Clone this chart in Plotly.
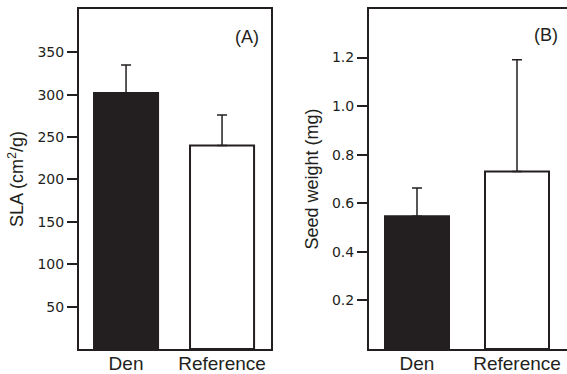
import plotly.graph_objects as go

categories = ["Den", "Reference"]
sla_values = [302, 240]
sla_errors = [33, 36]
seed_values = [0.547, 0.731]
seed_errors = [0.116, 0.46]
sla_ticks = [50, 100, 150, 200, 250, 300, 350]
seed_ticks = [0.2, 0.4, 0.6, 0.8, 1.0, 1.2]

W, H = 567, 374
T, B = 9, 24.5
INK = "#231f20"
fills = [INK, "white"]

fig = go.Figure()
fig.add_trace(go.Bar(
    x=[0, 1], y=sla_values, width=0.667,
    marker=dict(color=fills, line=dict(color=INK, width=2)),
    error_y=dict(type="data", array=sla_errors, arrayminus=[0, 0], symmetric=False,
                 color=INK, thickness=1.5, width=5),
    xaxis="x", yaxis="y", showlegend=False))
fig.add_trace(go.Bar(
    x=[0, 1], y=seed_values, width=0.64,
    marker=dict(color=fills, line=dict(color=INK, width=2)),
    error_y=dict(type="data", array=seed_errors, arrayminus=[0, 0], symmetric=False,
                 color=INK, thickness=1.5, width=5),
    xaxis="x2", yaxis="y2", showlegend=False))

tickfont = dict(family="DejaVu Sans", size=14, color=INK)
catfont = dict(family="Liberation Sans, Arial", size=19, color=INK)
titlefont = dict(family="Liberation Sans, Arial", size=18, color=INK)

common_x = dict(showline=True, linecolor=INK, linewidth=2, showgrid=False, zeroline=False,
                ticks="", ticklen=0, tickmode="array", tickvals=[0, 1], ticktext=categories,
                tickfont=catfont, fixedrange=True, automargin=False, ticklabelstandoff=-4)
common_y = dict(showline=True, linecolor=INK, linewidth=2, showgrid=False, zeroline=False,
                ticks="outside", ticklen=10, tickwidth=2, tickcolor=INK,
                tickfont=tickfont, fixedrange=True, automargin=False)

fig.update_layout(
    width=W, height=H,
    margin=dict(l=0, r=0, t=T, b=B, pad=0),
    paper_bgcolor="white", plot_bgcolor="white",
    xaxis=dict(**common_x, domain=[79 / W, 271 / W], range=[-0.49, 1.51], mirror=True, anchor="y"),
    yaxis=dict(**common_y, range=[0, 401], tickvals=sla_ticks, mirror=True, anchor="x",
               title=dict(text="SLA (cm<sup>2</sup>/g)", font=titlefont, standoff=9)),
    xaxis2=dict(**common_x, domain=[369 / W, 1.0], range=[-0.48, 1.5], mirror=True, anchor="y2"),
    yaxis2=dict(**common_y, range=[0, 1.4], tickvals=seed_ticks, tickformat=".1f", anchor="x2",
                title=dict(text="Seed weight (mg)", font=titlefont, standoff=9)),
)
ph = H - T - B
fig.add_annotation(text="(A)", x=247 / W, y=1 - (37 - T) / ph, xref="paper", yref="paper",
                   xanchor="center", yanchor="middle", showarrow=False,
                   font=dict(family="Liberation Sans, Arial", size=18, color=INK))
fig.add_annotation(text="(B)", x=546 / W, y=1 - (35 - T) / ph, xref="paper", yref="paper",
                   xanchor="center", yanchor="middle", showarrow=False,
                   font=dict(family="Liberation Sans, Arial", size=18, color=INK))

fig.write_html("out.html", config={"displayModeBar": False},
               post_script="document.body.style.margin='0';document.body.style.overflow='hidden';")
